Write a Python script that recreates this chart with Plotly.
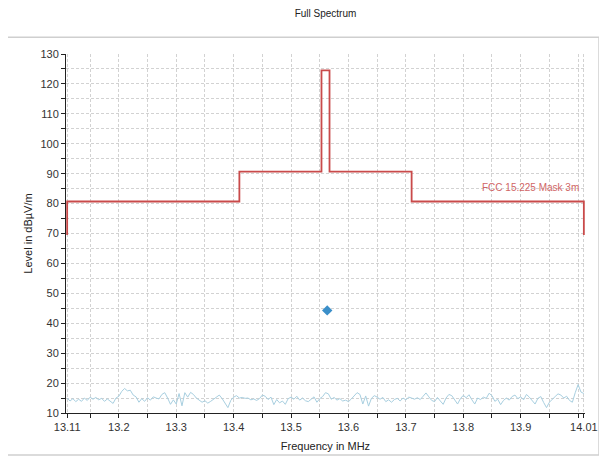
import plotly.graph_objects as go

# ---- data ----
title_text = "Full Spectrum"
x_title = "Frequency in MHz"
y_title = "Level in dBµV/m"

# FCC 15.225 mask (3 m), step edges in MHz and levels in dBµV/m
mask_freq = [13.11, 13.11, 13.41, 13.553, 13.567, 13.71, 14.01, 14.01]
mask_level = [69.5, 80.7, 90.7, 124.5, 90.7, 80.7, 80.7, 69.5]
mask_label = "FCC 15.225 Mask 3m"

# measured peak
peak_freq = [13.563]
peak_level = [44.3]

# noise floor sweep
sweep_start = 13.11
sweep_step = 0.005
noise_level = [
    15.0, 14.0, 14.8, 13.8, 14.6, 13.9, 15.0, 14.2, 15.3, 14.6,
    15.2, 14.4, 14.9, 13.9, 14.7, 14.0, 13.2, 15.0, 15.6, 17.2,
    18.2, 17.4, 17.6, 16.0, 15.4, 13.6, 14.8, 13.9, 15.1, 14.3,
    15.4, 15.0, 14.7, 16.2, 16.8, 15.0, 12.9, 14.4, 13.0, 16.5,
    12.4, 16.8, 15.3, 16.9, 16.2, 15.0, 14.2, 13.6, 14.1, 13.3,
    13.9, 14.6, 15.4, 16.0, 14.8, 13.5, 11.8, 14.2, 15.3, 15.8,
    15.0, 15.2, 14.9, 15.0, 14.4, 14.7, 14.2, 14.8, 16.0, 15.6,
    14.5, 15.3, 12.8, 14.5, 13.4, 14.0, 12.9, 14.8, 15.3, 14.6,
    15.6, 14.3, 15.0, 14.1, 13.8, 14.6, 15.4, 13.6, 14.8, 15.5,
    16.8, 16.4, 14.6, 15.2, 14.3, 14.8, 14.0, 14.3, 13.8, 14.7,
    15.6, 16.8, 16.2, 13.0, 15.7, 12.3, 14.9, 15.8, 15.3, 14.6,
    15.2, 13.8, 14.4, 13.6, 14.5, 14.9, 14.0, 15.0, 14.4, 15.3,
    15.0, 14.6, 15.1, 14.5, 15.6, 16.7, 15.4, 14.2, 13.8, 15.2,
    14.0, 12.9, 15.0, 16.2, 15.8, 14.6, 13.0, 14.8, 15.9, 15.1,
    16.1, 14.4, 13.0, 15.0, 14.5, 15.3, 14.9, 16.6, 15.8, 13.9,
    14.6, 12.8, 14.2, 15.0, 14.3, 15.5, 16.0, 14.8, 15.4, 14.4,
    16.2, 15.3, 14.1, 13.0, 14.9, 15.5, 13.5, 11.8, 13.6, 14.4,
    15.5, 16.4, 16.0, 15.0, 15.6, 14.2, 13.6, 16.8, 19.5, 17.0,
    16.5,
]
noise_freq = [round(sweep_start + i * sweep_step, 4) for i in range(len(noise_level))]

x_tick_vals = [13.11, 13.2, 13.3, 13.4, 13.5, 13.6, 13.7, 13.8, 13.9, 14.01]
x_tick_text = ["13.11", "13.2", "13.3", "13.4", "13.5", "13.6", "13.7", "13.8", "13.9", "14.01"]
x_minor_vals = [13.15, 13.25, 13.35, 13.45, 13.55, 13.65, 13.75, 13.85, 13.95, 14.0]
x_range = [13.108, 14.012]
y_range = [10, 130]

# ---- figure ----
FONT = "Liberation Sans, Arial, sans-serif"
grid_col = "#d2d2d2"
GRID_DASH = "3px,2px"

fig = go.Figure()
fig.add_trace(go.Scatter(
    x=noise_freq, y=noise_level, mode="lines",
    line=dict(color="#a8cfe0", width=1), hoverinfo="skip", showlegend=False))
fig.add_trace(go.Scatter(
    x=mask_freq, y=mask_level, mode="lines", line_shape="hv",
    line=dict(color="#c94a4a", width=1.8), showlegend=False))
fig.add_trace(go.Scatter(
    x=peak_freq, y=peak_level, mode="markers",
    marker=dict(symbol="diamond", size=8, color="#3b8fc9"), showlegend=False))

fig.add_annotation(
    x=14.005, y=85.5, xref="x", yref="y", text=mask_label, showarrow=False,
    xanchor="right", yanchor="middle",
    font=dict(family=FONT, size=10, color="#d06565"))

# outer frame
fig.add_shape(type="rect", xref="paper", yref="paper",
              x0=-0.114, x1=1.027, y0=-0.117, y1=1.047,
              line=dict(color="#cfcfcf", width=1.5), layer="below")

fig.update_layout(
    width=599, height=451,
    margin=dict(l=58, r=22, t=46, b=46),
    paper_bgcolor="white", plot_bgcolor="white",
    font=dict(family=FONT, size=11, color="#333333"),
    title=dict(text=title_text, x=0.5, xref="paper", y=0.987, yref="container",
               xanchor="center", yanchor="middle",
               font=dict(family=FONT, size=10, color="#222222")),
    xaxis=dict(
        range=x_range, tickmode="array", tickvals=x_tick_vals, ticktext=x_tick_text,
        showline=True, linecolor="#222222", linewidth=1, layer="below traces",
        ticks="outside", ticklen=4, tickcolor="#222222",
        showgrid=True, gridcolor=grid_col, griddash=GRID_DASH, gridwidth=1,
        minor=dict(tickmode="array", tickvals=x_minor_vals, ticks="outside", ticklen=4,
                   tickcolor="#222222", showgrid=True, gridcolor=grid_col, griddash=GRID_DASH),
        zeroline=False, automargin=False,
        title=dict(text=x_title, standoff=10, font=dict(family=FONT, size=11, color="#222222")),
        tickfont=dict(family=FONT, size=11, color="#333333"),
    ),
    yaxis=dict(
        range=y_range, dtick=10, tick0=10,
        showline=True, linecolor="#222222", linewidth=1, layer="below traces",
        ticks="outside", ticklen=4, tickcolor="#222222",
        showgrid=True, gridcolor=grid_col, griddash=GRID_DASH, gridwidth=1,
        minor=dict(dtick=5, tick0=10, ticks="outside", ticklen=4, tickcolor="#222222",
                   showgrid=True, gridcolor=grid_col, griddash=GRID_DASH),
        zeroline=False, automargin=False,
        title=dict(text=y_title, standoff=5, font=dict(family=FONT, size=11, color="#222222")),
        tickfont=dict(family=FONT, size=11, color="#333333"),
    ),
)

fig.write_html("out.html")
